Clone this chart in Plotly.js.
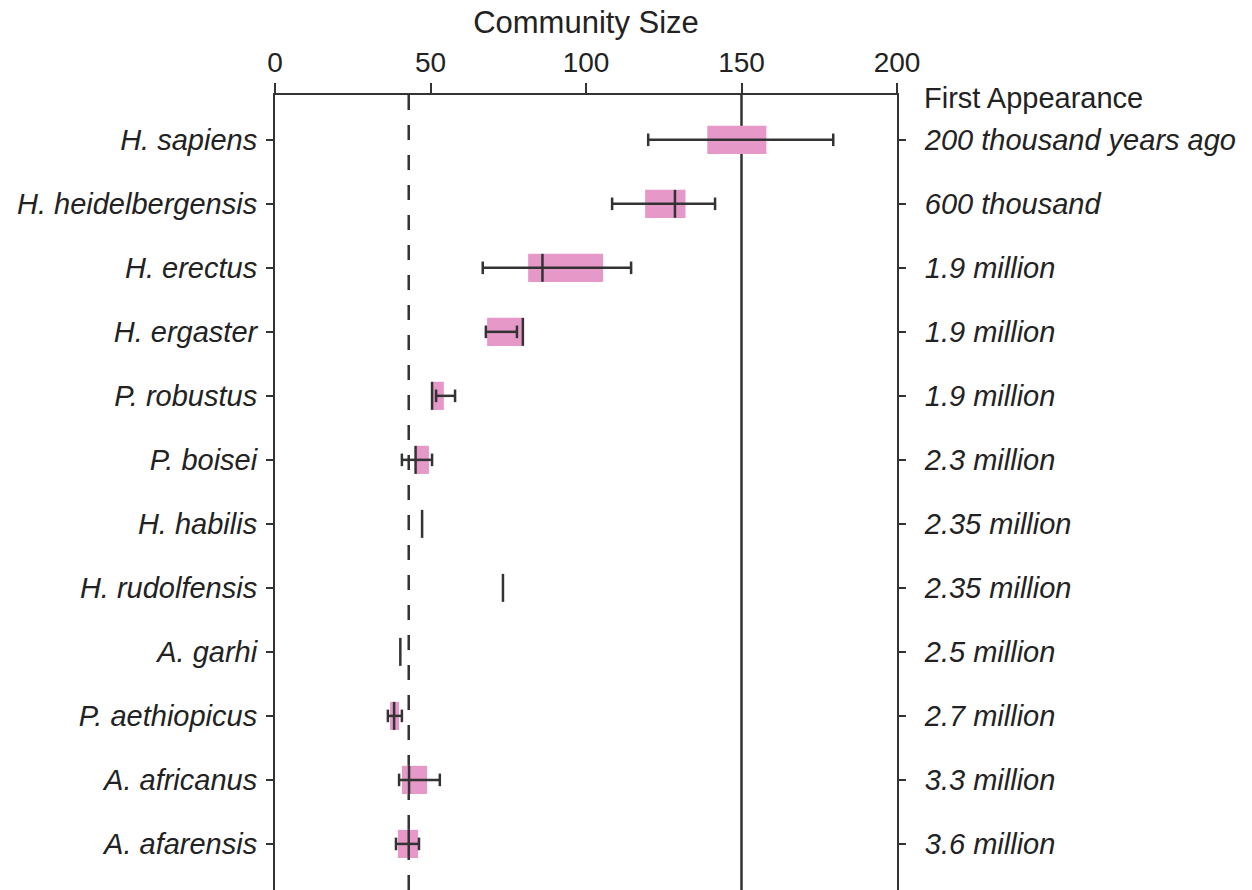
<!DOCTYPE html>
<html>
<head>
<meta charset="utf-8">
<script src="https://cdn.plot.ly/plotly-3.0.1.min.js"></script>
<style>html,body{margin:0;padding:0;background:#fff;}#chart{width:1252px;height:890px;}</style>
</head>
<body>
<div id="chart"></div>
<script>
// ---- data (top row first) ----
var species = ["H. sapiens","H. heidelbergensis","H. erectus","H. ergaster","P. robustus","P. boisei",
               "H. habilis","H. rudolfensis","A. garhi","P. aethiopicus","A. africanus","A. afarensis"];
var firstAppearance = ["200 thousand years ago","600 thousand","1.9 million","1.9 million","1.9 million",
                       "2.3 million","2.35 million","2.35 million","2.5 million","2.7 million","3.3 million","3.6 million"];
var boxLow   = [139, 119, 81.4, 68.2, 50.2, 45,   null, null, null, 37,   40.8, 39.5];
var boxHigh  = [158, 132, 105.5, 80,  54.3, 49.5, null, null, null, 39.9, 48.9, 46];
var centre   = [null, 128.6, 86, 79.7, 50.5, 45.2, 47.3, 73.3, 40.3, 38.3, 43.1, 43];
var whiskLow = [120, 108.4, 66.8, 67.8, 51.8, 40.8, null, null, null, 36.3, 39.9, 38.9];
var whiskHigh= [179.5, 141.5, 114.5, 77.8, 57.9, 50.5, null, null, null, 40.8, 53, 46.3];
var xTicks = [0, 50, 100, 150, 200];
var dashedRef = 43;   // dashed reference line
var solidRef = 150;   // solid reference line

var rows = species.map(function(_, i){ return i; });
var dark = "#333333";
var pink = "#e699c9";
var FONT = "Liberation Sans, Arial, Helvetica, sans-serif";
var FS = 29, FT = 28, FTITLE = 31;

// boxes as horizontal bars
var bx = [], bb = [], by = [];
rows.forEach(function(i){
  if (boxLow[i] !== null) { bx.push(boxHigh[i] - boxLow[i]); bb.push(boxLow[i]); by.push(i); }
});
var boxes = {type:"bar", orientation:"h", x:bx, base:bb, y:by, width:0.44,
  marker:{color:pink, line:{width:0}}, hoverinfo:"skip", showlegend:false};

// whiskers
var wx = [], wy = [];
rows.forEach(function(i){
  if (whiskLow[i] !== null) { wx.push(whiskLow[i], whiskHigh[i], null); wy.push(i, i, null); }
});
var whiskers = {type:"scatter", mode:"lines+markers", x:wx, y:wy,
  line:{color:dark, width:2.5},
  marker:{symbol:"line-ns", size:9, color:dark, line:{color:dark, width:2.5}},
  hoverinfo:"skip", showlegend:false, cliponaxis:false};

// centre ticks
var cx = [], cy = [];
rows.forEach(function(i){ if (centre[i] !== null) { cx.push(centre[i]); cy.push(i); } });
var centres = {type:"scatter", mode:"markers", x:cx, y:cy, yaxis:"y2",
  marker:{symbol:"line-ns", size:20, color:dark, line:{color:dark, width:2.5}},
  hoverinfo:"skip", showlegend:false};

var yr = [11.72, -0.70];

var layout = {
  width:1252, height:890,
  margin:{l:275, r:355, t:95, b:0, pad:0},
  paper_bgcolor:"#fff", plot_bgcolor:"#fff",
  font:{family:FONT, size:FS, color:"#222"},
  showlegend:false,
  barmode:"overlay",
  xaxis:{side:"top", range:[0,200], tickvals:xTicks, ticktext:xTicks.map(String),
    showgrid:false, zeroline:false, showline:true, linewidth:2, linecolor:dark,
    ticks:"outside", ticklen:10, tickwidth:2, tickcolor:dark,
    tickfont:{family:FONT, size:FT, color:"#222"},
    title:{text:"Community Size", font:{family:FONT, size:FTITLE, color:"#222"}, standoff:4},
    fixedrange:true},
  yaxis:{range:yr, tickvals:rows, ticktext:species, showgrid:false, zeroline:false,
    showline:true, linewidth:2, linecolor:dark, ticks:"outside", ticklen:7, tickwidth:2, tickcolor:dark,
    tickfont:{family:FONT, size:FS, color:"#222", style:"italic"}, ticklabelstandoff:3, fixedrange:true},
  yaxis2:{range:yr, overlaying:"y", side:"right", anchor:"x", tickvals:rows, ticktext:firstAppearance,
    showgrid:false, zeroline:false, showline:true, linewidth:2, linecolor:dark,
    ticks:"outside", ticklen:7, tickwidth:2, tickcolor:dark,
    tickfont:{family:FONT, size:FS, color:"#222", style:"italic"}, ticklabelstandoff:13, fixedrange:true},
  shapes:[
    {type:"line", xref:"x", yref:"paper", x0:solidRef, x1:solidRef, y0:0, y1:1, layer:"below",
     line:{color:dark, width:2.5}},
    {type:"line", xref:"x", yref:"paper", x0:dashedRef, x1:dashedRef, y0:0, y1:1, layer:"below",
     line:{color:dark, width:2.5, dash:"15px,15px"}}
  ],
  annotations:[
    {text:"First Appearance", xref:"paper", x:1, xanchor:"left", xshift:25, yref:"y", y:-0.66,
     yanchor:"middle", showarrow:false, font:{family:FONT, size:FS, color:"#222"}}
  ]
};

Plotly.newPlot("chart", [boxes, whiskers, centres], layout, {displayModeBar:false, staticPlot:true});
</script>
</body>
</html>
